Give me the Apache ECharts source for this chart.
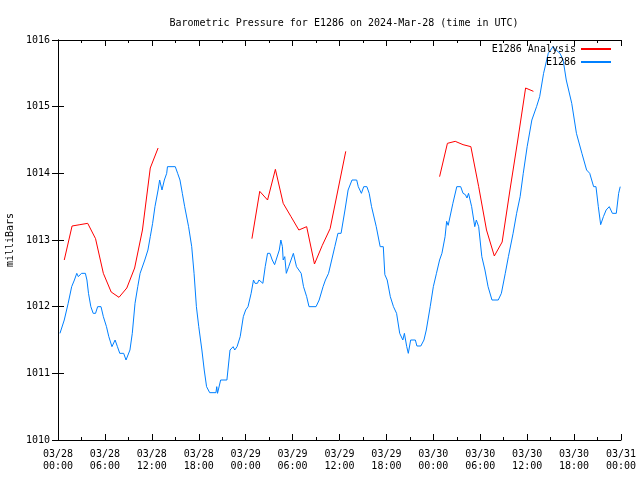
<!DOCTYPE html>
<html><head><meta charset="utf-8">
<script src="https://cdn.jsdelivr.net/npm/echarts@6/dist/echarts.min.js"></script>
<style>html,body{margin:0;padding:0;background:#fff}#c{width:640px;height:480px}</style>
</head><body><div id="c"></div>
<script>
const tickLabels = ['03/28\n00:00','03/28\n06:00','03/28\n12:00','03/28\n18:00','03/29\n00:00','03/29\n06:00','03/29\n12:00','03/29\n18:00','03/30\n00:00','03/30\n06:00','03/30\n12:00','03/30\n18:00','03/31\n00:00'];
// hours since 03/28 00:00 UTC
const analysisHours = [0.8,1.8,2.8,3.8,4.8,5.8,6.8,7.8,8.8,9.8,10.8,11.8,12.8, null,
  24.8,25.8,26.8,27.8,28.8,29.8,30.8,31.8,32.8,33.8,34.8,35.8,36.8, null,
  48.8,49.8,50.8,51.8,52.8,53.8,54.8,55.8,56.8,57.8,58.8,59.8,60.8];
const analysisValues = [1012.7,1013.21,1013.23,1013.25,1013.02,1012.5,1012.22,1012.14,1012.28,1012.58,1013.15,1014.08,1014.38, null,
  1013.02,1013.73,1013.6,1014.06,1013.55,1013.35,1013.15,1013.2,1012.64,1012.92,1013.17,1013.75,1014.33, null,
  1013.95,1014.45,1014.48,1014.43,1014.4,1013.8,1013.15,1012.76,1012.97,1013.75,1014.5,1015.28,1015.23];
const obsHours = [0.25,0.8,1.3,1.75,2.1,2.4,2.6,3.0,3.5,3.7,3.9,4.2,4.5,4.8,5.07,5.5,5.8,6.2,6.5,6.9,7.1,7.3,7.6,7.9,8.4,8.7,9.2,9.5,9.85,10.2,10.5,11.1,11.5,11.8,12.1,12.4,12.8,13.0,13.3,13.6,13.9,14.0,15.0,15.3,15.6,15.9,16.2,16.7,17.1,17.4,17.7,18.0,18.4,18.7,19.0,19.4,20.2,20.3,20.4,20.8,21.6,22.0,22.4,22.6,22.9,23.3,23.7,24.0,24.3,24.7,25.0,25.2,25.5,25.7,25.9,26.2,26.5,26.8,27.1,27.4,27.7,27.9,28.3,28.5,28.7,28.8,29.0,29.2,29.5,29.7,30.1,30.5,30.8,31.1,31.4,31.8,32.1,33.0,33.4,33.9,34.2,34.6,35.0,35.4,35.8,36.2,36.7,37.1,37.6,38.2,38.4,38.8,39.1,39.5,39.8,40.1,40.7,41.2,41.6,41.8,42.1,42.5,42.9,43.3,43.7,44.1,44.3,44.6,44.8,45.1,45.7,45.9,46.4,46.8,47.1,47.6,48.0,48.4,48.8,49.1,49.3,49.5,49.7,49.9,50.1,50.5,51.0,51.5,51.8,52.1,52.3,52.5,52.9,53.3,53.5,53.8,54.2,54.6,55.0,55.5,56.3,56.7,57.2,57.6,58.2,58.65,59.1,59.5,60.0,60.6,61.2,61.6,62.1,62.7,63.3,63.7,64.2,64.6,65.0,65.7,66.3,67.0,67.6,68.0,68.5,68.8,69.1,69.4,69.75,70.1,70.5,70.9,71.4,71.7,71.9];
const obsValues = [1011.6,1011.8,1012.05,1012.3,1012.4,1012.5,1012.45,1012.5,1012.5,1012.4,1012.2,1012.0,1011.9,1011.9,1012.0,1012.0,1011.85,1011.7,1011.55,1011.4,1011.4,1011.5,1011.4,1011.3,1011.3,1011.2,1011.35,1011.6,1012.05,1012.3,1012.5,1012.7,1012.85,1013.05,1013.25,1013.5,1013.75,1013.9,1013.75,1013.9,1014.0,1014.1,1014.1,1014.0,1013.9,1013.7,1013.5,1013.2,1012.9,1012.5,1012.0,1011.7,1011.35,1011.05,1010.8,1010.71,1010.71,1010.8,1010.7,1010.9,1010.9,1011.35,1011.4,1011.35,1011.4,1011.55,1011.85,1011.95,1012.0,1012.2,1012.4,1012.35,1012.35,1012.4,1012.4,1012.35,1012.6,1012.8,1012.8,1012.7,1012.63,1012.6,1012.85,1013.0,1012.9,1012.7,1012.75,1012.5,1012.6,1012.6,1012.8,1012.6,1012.55,1012.5,1012.3,1012.15,1012.0,1012.0,1012.1,1012.3,1012.4,1012.5,1012.7,1012.9,1013.1,1013.1,1013.45,1013.75,1013.9,1013.9,1013.8,1013.7,1013.8,1013.8,1013.7,1013.5,1013.2,1012.9,1012.9,1012.48,1012.4,1012.15,1012.0,1011.9,1011.6,1011.5,1011.6,1011.4,1011.3,1011.5,1011.5,1011.41,1011.41,1011.5,1011.65,1012.0,1012.3,1012.5,1012.7,1012.8,1012.8,1013.05,1013.28,1013.22,1013.33,1013.55,1013.8,1013.8,1013.7,1013.68,1013.63,1013.7,1013.5,1013.2,1013.3,1013.2,1012.75,1012.55,1012.3,1012.1,1012.1,1012.2,1012.5,1012.75,1013.1,1013.4,1013.65,1014.0,1014.4,1014.8,1015.0,1015.15,1015.5,1015.8,1015.9,1015.85,1015.8,1015.7,1015.4,1015.05,1014.6,1014.3,1014.05,1014.0,1013.8,1013.8,1013.5,1013.23,1013.35,1013.45,1013.5,1013.4,1013.4,1013.7,1013.8];

const FONT = 'DejaVu Sans Mono';
const analysisData = analysisHours.map((h,i)=> h===null ? [null,null] : [h, analysisValues[i]]);
const obsData = obsHours.map((h,i)=>[h, obsValues[i]]);
const chart = echarts.init(document.getElementById('c'), null, {renderer:'canvas'});
const axisCommon = {axisLine:{lineStyle:{color:'#000',width:1}}, splitLine:{show:false}};
chart.setOption({
  animation:false,
  backgroundColor:'#fff',
  textStyle:{fontFamily:FONT},
  title:{text:'Barometric Pressure for E1286 on 2024-Mar-28 (time in UTC)', left:339, textAlign:'center', top:13,
    textStyle:{fontFamily:FONT,fontSize:10,fontWeight:'normal',color:'#000'}},
  legend:[
    {data:['E1286 Analysis'], right:29, top:44, align:'right', orient:'vertical', itemWidth:30, itemHeight:2, itemGap:2, icon:'rect',
      textStyle:{fontFamily:FONT,fontSize:10,color:'#000'}, padding:0},
    {data:['E1286'], right:29, top:57, align:'right', orient:'vertical', itemWidth:30, itemHeight:2, icon:'rect',
      textStyle:{fontFamily:FONT,fontSize:10,color:'#000'}, padding:0}
  ],
  grid:{left:58,right:19,top:40,bottom:40,containLabel:false,outerBoundsMode:'none'},
  xAxis:[
    Object.assign({type:'value',min:0,max:72,interval:6,position:'bottom',
      axisTick:{inside:true,length:6,lineStyle:{color:'#000'}},
      minorTick:{show:true,splitNumber:2,length:3,lineStyle:{color:'#000'}},
      axisLabel:{fontFamily:FONT,fontSize:10,color:'#000',lineHeight:12,margin:8,
        formatter:v=>tickLabels[Math.round(v/6)]}}, axisCommon),
    Object.assign({type:'value',min:0,max:72,interval:6,position:'top',
      axisTick:{inside:true,length:6,lineStyle:{color:'#000'}},
      minorTick:{show:true,splitNumber:2,length:3,lineStyle:{color:'#000'}},
      axisLabel:{show:false}}, axisCommon)
  ],
  yAxis:[
    Object.assign({type:'value',min:1010,max:1016,interval:1,position:'left',
      name:'milliBars',nameLocation:'middle',nameGap:42,nameRotate:90,
      nameTextStyle:{fontFamily:FONT,fontSize:10,color:'#000'},
      axisTick:{inside:true,length:6,lineStyle:{color:'#000'}},
      axisLabel:{fontFamily:FONT,fontSize:10,color:'#000',margin:8,formatter:v=>String(v)}}, axisCommon),
    Object.assign({type:'value',min:1010,max:1016,interval:1,position:'right',
      axisTick:{inside:true,length:6,lineStyle:{color:'#000'}},
      axisLabel:{show:false}}, axisCommon)
  ],
  series:[
    {name:'E1286 Analysis',type:'line',data:analysisData,showSymbol:false,symbol:'none',connectNulls:false,
      lineStyle:{color:'#ff0000',width:1},itemStyle:{color:'#ff0000'},z:2},
    {name:'E1286',type:'line',data:obsData,showSymbol:false,symbol:'none',
      lineStyle:{color:'#0080ff',width:1},itemStyle:{color:'#0080ff'},z:3}
  ]
});
</script></body></html>
